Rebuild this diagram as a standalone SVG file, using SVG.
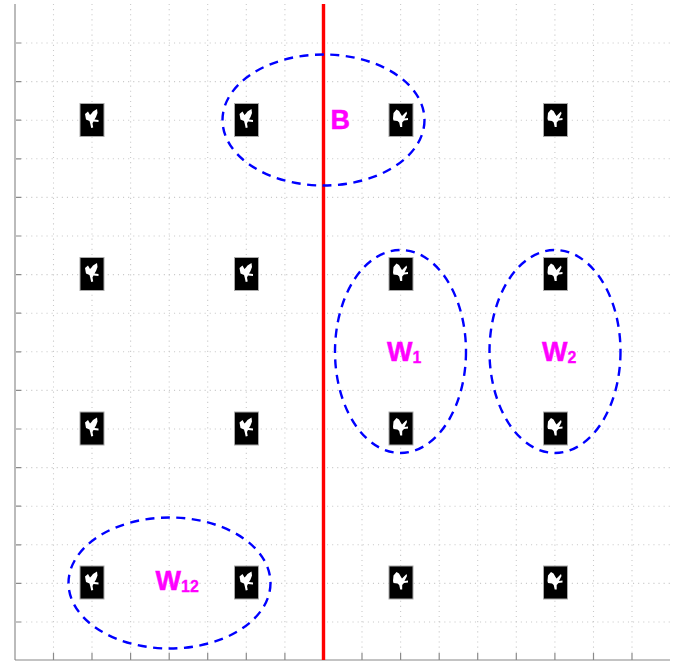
<svg xmlns="http://www.w3.org/2000/svg" width="684" height="662" viewBox="0 0 684 662">
<defs>
<style>
.g{stroke:#cacaca;stroke-width:1.1;stroke-dasharray:1.1 4;fill:none}
.t{stroke:#8a8a8a;stroke-width:1.2;fill:none}
.e{fill:none;stroke:#0000ff;stroke-width:2.4;stroke-dasharray:9 6.5}
.l{font-family:"Liberation Sans",Arial,sans-serif;font-weight:bold;fill:#ff00ff;stroke:#ff00ff;stroke-width:.5;font-size:27px}
.s{font-size:16px;stroke-width:.3}
</style>
<g id="ta"><rect x="-12" y="-16.5" width="24" height="33" fill="#000" stroke="#aaa" stroke-width="1"/><path d="M-7,-6 L-4,-8.5 L-2,-5 L-0.5,-6.5 L1,-8.5 L5,-11 L5.5,-7 L4,-3 L2.5,-0.5 L6.5,0 L6.5,2 L1.5,1.5 L0.5,3.5 L1.2,7.5 L-0.8,8 L-1.8,3.5 L-2.5,1 L-6,-0.5 Z" fill="#fff"/></g>
<g id="tb"><rect x="-12" y="-16.5" width="24" height="33" fill="#000" stroke="#aaa" stroke-width="1"/><path d="M-8,-1.5 L-7.5,-7 L-4.5,-10.5 L-2,-9 L0,-5.5 L1,-4 L5.5,-8.5 L6,-6.5 L3.5,-1.5 L7,-2 L7,0 L3,0.5 L1.2,2.5 L1.2,7 L-0.8,7 L-1.8,2.5 L-3.5,1 L-7.5,0.5 Z" fill="#fff"/></g>
</defs>
<g id="grid">
<path class="g" d="M53.5,4V653M92,4V653M130.6,4V653M169.2,4V653M207.7,4V653M246.3,4V653M284.9,4V653M323.5,4V653M362,4V653M400.6,4V653M439.2,4V653M477.7,4V653M516.3,4V653M554.9,4V653M593.5,4V653M632,4V653"/>
<path class="g" d="M21,43H670M21,81.6H670M21,120.2H670M21,158.8H670M21,197.4H670M21,236H670M21,274.6H670M21,313.2H670M21,351.8H670M21,390.4H670M21,429H670M21,467.6H670M21,506.2H670M21,544.8H670M21,583.4H670M21,622H670"/>
<path class="t" d="M15,43h6M15,81.6h6M15,120.2h6M15,158.8h6M15,197.4h6M15,236h6M15,274.6h6M15,313.2h6M15,351.8h6M15,390.4h6M15,429h6M15,467.6h6M15,506.2h6M15,544.8h6M15,583.4h6M15,622h6"/>
<path class="t" d="M53.5,660v-7M92,660v-7M130.6,660v-7M169.2,660v-7M207.7,660v-7M246.3,660v-7M284.9,660v-7M323.5,660v-7M362,660v-7M400.6,660v-7M439.2,660v-7M477.7,660v-7M516.3,660v-7M554.9,660v-7M593.5,660v-7M632,660v-7"/>
<path d="M15,4V660" stroke="#bbb" stroke-width="2" fill="none"/>
<path d="M15,660H670" stroke="#888" stroke-width="1.2" fill="none"/>
</g>
<g id="turbines">
<g id="n1"><use href="#ta" x="92" y="120"/></g><g id="n2"><use href="#ta" x="246.5" y="120"/></g><g id="n3"><use href="#tb" x="401" y="120"/></g><g id="n4"><use href="#tb" x="555.5" y="120"/></g>
<g id="n5"><use href="#ta" x="92" y="274"/></g><g id="n6"><use href="#ta" x="246.5" y="274"/></g><g id="n7"><use href="#tb" x="401" y="274"/></g><g id="n8"><use href="#tb" x="555.5" y="274"/></g>
<g id="n9"><use href="#ta" x="92" y="428.5"/></g><g id="n10"><use href="#ta" x="246.5" y="428.5"/></g><g id="n11"><use href="#tb" x="401" y="428.5"/></g><g id="n12"><use href="#tb" x="555.5" y="428.5"/></g>
<g id="n13"><use href="#ta" x="92" y="582.5"/></g><g id="n14"><use href="#ta" x="246.5" y="582.5"/></g><g id="n15"><use href="#tb" x="401" y="582.5"/></g><g id="n16"><use href="#tb" x="555.5" y="582.5"/></g>
</g>
<g id="connectors">
<path d="M323.5,4V660" stroke="#ff0000" stroke-width="3.4" fill="none"/>
<ellipse class="e" cx="323.5" cy="120" rx="101" ry="65.5"/>
<ellipse class="e" cx="400.5" cy="351.5" rx="65.5" ry="101.5"/>
<ellipse class="e" cx="555" cy="351.5" rx="65.5" ry="101.5"/>
<ellipse class="e" cx="169.5" cy="583" rx="101" ry="65.5"/>
</g>
<g id="labels">
<text class="l" x="330.5" y="128.5">B</text>
<text class="l" x="387" y="361">W<tspan class="s" dy="2">1</tspan></text>
<text class="l" x="542" y="361">W<tspan class="s" dy="2">2</tspan></text>
<text class="l" x="155.5" y="590">W<tspan class="s" dy="2">12</tspan></text>
</g>
</svg>
